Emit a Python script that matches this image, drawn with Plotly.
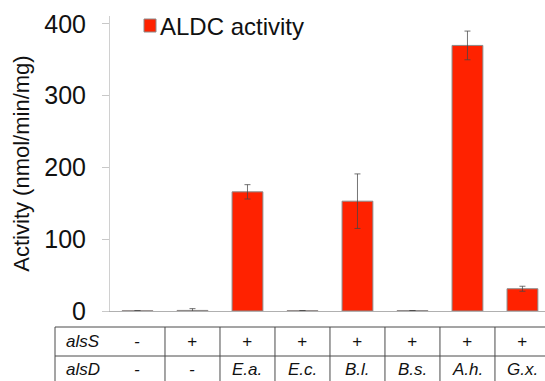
import plotly.graph_objects as go

# ---- data ----
series_name = "ALDC activity"
alsS = ["-", "+", "+", "+", "+", "+", "+", "+"]
alsD = ["-", "-", "E.a.", "E.c.", "B.l.", "B.s.", "A.h.", "G.x."]
activity = [0.3, 0.8, 166, 0.4, 153, 0.5, 370, 31]
error = [0, 2.5, 10, 0, 38, 0, 20, 3.5]
row_labels = ["alsS", "alsD"]
y_ticks = [0, 100, 200, 300, 400]

W, H = 545, 381
ML, MR, MT, MB = 110, 0, 16, 70
XMIN, XMAX = -0.5, 7.41
YMIN, YMAX = 0, 411

idx = list(range(len(alsD)))

fig = go.Figure()
fig.add_trace(go.Bar(
    x=idx, y=activity, name=series_name,
    marker=dict(color="#ff2200", line=dict(color="#8a8a8a", width=1)),
    width=0.56,
    error_y=dict(type="data", array=error, visible=True,
                 color="rgba(70,70,70,0.75)", thickness=1, width=3),
    showlegend=False,
))

def xp(xd):
    return (xd - XMIN) / (XMAX - XMIN)

ph = H - MT - MB
def yp_px(py):
    # pixel row -> paper coordinate
    return (H - MB - py) / ph

shapes = []
line_col = "#4a4a4a"
row_top, row_mid, row_bot = 327, 356, 386
# vertical table lines (category boundaries)
for b in [-1.5] + [i + 0.5 for i in idx]:
    shapes.append(dict(type="line", xref="paper", yref="paper",
                       x0=xp(b), x1=xp(b), y0=yp_px(row_top), y1=yp_px(row_bot),
                       line=dict(color=line_col, width=1)))
for r in [row_top, row_mid, row_bot]:
    shapes.append(dict(type="line", xref="paper", yref="paper",
                       x0=xp(-1.5), x1=1.02, y0=yp_px(r), y1=yp_px(r),
                       line=dict(color=line_col, width=1)))

annotations = []
tfont = dict(family="Liberation Sans, Arial, sans-serif", size=17, color="#111")
rows = [alsS, alsD]
row_centers = [(row_top + row_mid) / 2, (row_mid + row_bot) / 2 - 1.5]
for r, (lab, vals) in enumerate(zip(row_labels, rows)):
    yc = yp_px(row_centers[r])
    annotations.append(dict(x=xp(-1), y=yc, xref="paper", yref="paper",
                            text=f"<i>{lab}</i>", showarrow=False, font=tfont,
                            xanchor="center", yanchor="middle"))
    for i, v in zip(idx, vals):
        annotations.append(dict(x=xp(i), y=yc, xref="paper", yref="paper",
                                text=f"<i>{v}</i>", showarrow=False, font=tfont,
                                xanchor="center", yanchor="middle"))

# legend (swatch + label)
shapes.append(dict(type="rect", xref="paper", yref="paper",
                   x0=(144 - ML) / (W - ML - MR), x1=(156 - ML) / (W - ML - MR),
                   y0=yp_px(32), y1=yp_px(19),
                   fillcolor="#ff2200", line=dict(color="#8a8a8a", width=1)))
annotations.append(dict(x=(158 - ML) / (W - ML - MR), y=yp_px(27), xref="paper", yref="paper",
                        text=series_name, showarrow=False,
                        font=dict(family="Liberation Sans, Arial, sans-serif", size=24, color="#111"),
                        xanchor="left", yanchor="middle"))

fig.update_layout(
    width=W, height=H,
    margin=dict(l=ML, r=MR, t=MT, b=MB, pad=0),
    paper_bgcolor="white", plot_bgcolor="white",
    shapes=shapes, annotations=annotations,
    font=dict(family="Liberation Sans, Arial, sans-serif", color="#111"),
    xaxis=dict(range=[XMIN, XMAX], showticklabels=False, ticks="",
               showgrid=False, zeroline=False, showline=True,
               linecolor="#b0b0b0", linewidth=1),
    yaxis=dict(range=[YMIN, YMAX], tickvals=y_ticks, ticks="outside",
               ticklen=7, tickcolor="#c8c8c8", tickwidth=1,
               showgrid=False, zeroline=False, showline=True,
               linecolor="#d0d0d0", linewidth=1,
               tickfont=dict(size=25, color="#111"),
               ticklabelstandoff=11,
               title=dict(text="Activity (nmol/min/mg)", font=dict(size=22, color="#111"),
                          standoff=8)),
)

fig.write_html("out.html", config={"displayModeBar": False},
               post_script="document.body.style.margin='0';document.body.style.overflow='hidden';")
